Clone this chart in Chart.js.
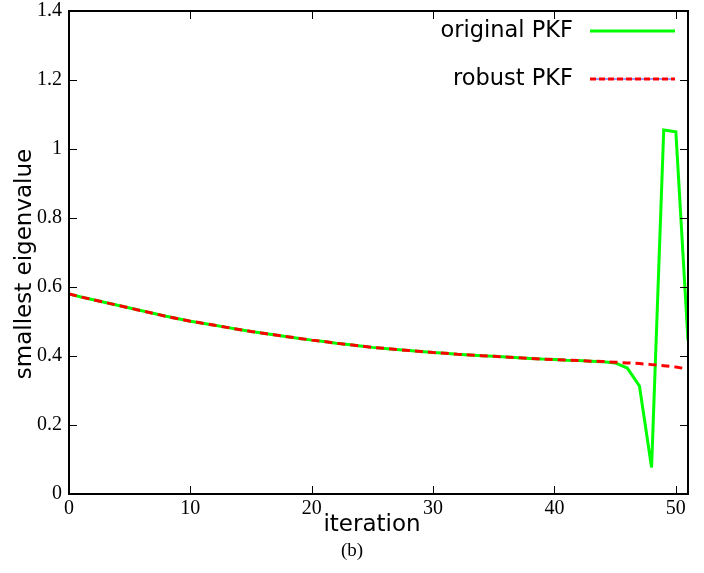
<!DOCTYPE html>
<html>
<head>
<meta charset="utf-8">
<script src="https://cdn.jsdelivr.net/npm/chart.js"></script>
<style>
  html, body { margin: 0; padding: 0; background: #fff; }
  #wrap { width: 704px; height: 573px; }
</style>
</head>
<body>
<div id="wrap"><canvas id="eigChart" width="704" height="573"></canvas></div>
<script>
// iterations 0..51
const iterations = [0,1,2,3,4,5,6,7,8,9,10,11,12,13,14,15,16,17,18,19,20,21,22,23,24,25,
    26,27,28,29,30,31,32,33,34,35,36,37,38,39,40,41,42,43,44,45,46,47,48,49,50,51];

const originalPKF = [0.580,0.571,0.563,0.555,0.547,0.539,0.531,0.523,0.515,0.508,
    0.501,0.495,0.489,0.483,0.477,0.471,0.466,0.461,0.456,0.451,
    0.446,0.442,0.437,0.433,0.429,0.425,0.422,0.419,0.416,0.413,
    0.410,0.408,0.405,0.403,0.401,0.399,0.397,0.395,0.393,0.391,
    0.390,0.388,0.387,0.385,0.383,0.380,0.365,0.313,0.077,1.055,1.050,0.445];

const robustPKF = [0.580,0.571,0.563,0.555,0.547,0.539,0.531,0.523,0.515,0.508,
    0.501,0.495,0.489,0.483,0.477,0.471,0.466,0.461,0.456,0.451,
    0.446,0.442,0.437,0.433,0.429,0.425,0.422,0.419,0.416,0.413,
    0.410,0.408,0.405,0.403,0.401,0.399,0.397,0.395,0.393,0.391,
    0.390,0.388,0.387,0.385,0.384,0.382,0.380,0.378,0.375,0.372,0.368,0.362];

const seriesNames = ['original PKF', 'robust PKF'];
const xTitle = 'iteration';
const yTitle = 'smallest eigenvalue';
const caption = '(b)';

const toPoints = (vals) => iterations.map((x, i) => ({ x: x, y: vals[i] }));

const serif = '"Liberation Serif", "Times New Roman", serif';
const sans = '"DejaVu Sans", sans-serif';

// --- frame, inward ticks, titles, legend ---
const gnuplotDecor = {
    id: 'gnuplotDecor',
    afterDraw(chart) {
        const { ctx, chartArea: { left, right, top, bottom }, scales: { x, y } } = chart;
        ctx.save();

        // inward tick marks on all four sides
        ctx.strokeStyle = '#000';
        ctx.lineWidth = 1;
        x.ticks.forEach(t => {
            const px = Math.round(x.getPixelForValue(t.value)) + 0.5;
            ctx.beginPath();
            ctx.moveTo(px, bottom); ctx.lineTo(px, bottom - 8);
            ctx.moveTo(px, top); ctx.lineTo(px, top + 8);
            ctx.stroke();
        });
        y.ticks.forEach(t => {
            const py = Math.round(y.getPixelForValue(t.value)) + 0.5;
            ctx.beginPath();
            ctx.moveTo(left, py); ctx.lineTo(left + 8, py);
            ctx.moveTo(right, py); ctx.lineTo(right - 8, py);
            ctx.stroke();
        });

        // frame
        ctx.lineWidth = 2;
        ctx.strokeRect(left, top, right - left, bottom - top);

        // axis titles
        ctx.fillStyle = '#000';
        ctx.font = '23px ' + sans;
        ctx.textAlign = 'center';
        ctx.textBaseline = 'middle';
        ctx.fillText(xTitle, 372, 525);

        ctx.save();
        ctx.translate(25, 264);
        ctx.rotate(-Math.PI / 2);
        ctx.fillText(yTitle, 0, 0);
        ctx.restore();

        // caption
        ctx.font = '19px ' + serif;
        ctx.fillText(caption, 352, 551);

        // legend
        ctx.font = '22.5px ' + sans;
        ctx.textAlign = 'right';
        const rows = [31, 79];
        ctx.fillText(seriesNames[0], 573, rows[0]);
        ctx.fillText(seriesNames[1], 573, rows[1]);

        ctx.lineWidth = 3;
        ctx.strokeStyle = '#00ff00';
        ctx.beginPath();
        ctx.moveTo(590, rows[0]); ctx.lineTo(675, rows[0]);
        ctx.stroke();

        ctx.lineWidth = 1.5;
        ctx.strokeStyle = '#7777ff';
        ctx.beginPath();
        ctx.moveTo(590, rows[1]); ctx.lineTo(675, rows[1]);
        ctx.stroke();
        ctx.lineWidth = 3;
        ctx.strokeStyle = '#ff0000';
        ctx.setLineDash([6, 3]);
        ctx.beginPath();
        ctx.moveTo(590, rows[1]); ctx.lineTo(675, rows[1]);
        ctx.stroke();

        ctx.restore();
    }
};

new Chart(document.getElementById('eigChart').getContext('2d'), {
    type: 'line',
    data: {
        datasets: [
            {
                label: seriesNames[1],
                data: toPoints(robustPKF),
                borderColor: '#ff0000',
                borderWidth: 3,
                borderDash: [8, 5],
                pointRadius: 0,
                tension: 0,
                order: 0
            },
            {
                label: seriesNames[0],
                data: toPoints(originalPKF),
                borderColor: '#00ff00',
                borderWidth: 3,
                pointRadius: 0,
                tension: 0,
                order: 1
            }
        ]
    },
    options: {
        responsive: false,
        animation: false,
        layout: { padding: { left: 0, top: 11, right: 16, bottom: 0 } },
        plugins: {
            legend: { display: false },
            tooltip: { enabled: false }
        },
        scales: {
            x: {
                type: 'linear',
                min: 0,
                max: 51,
                grid: { display: false, drawTicks: false },
                border: { display: false },
                afterFit(scale) {
                    scale.height = 79;
                    scale.paddingLeft = 0;
                    scale.paddingRight = 0;
                },
                ticks: {
                    stepSize: 10,
                    includeBounds: false,
                    padding: 3,
                    color: '#000',
                    font: { family: serif, size: 20 },
                    maxRotation: 0
                }
            },
            y: {
                min: 0,
                max: 1.4,
                grid: { display: false, drawTicks: false },
                border: { display: false },
                afterFit(scale) {
                    scale.width = 69;
                    scale.paddingTop = 0;
                    scale.paddingBottom = 0;
                },
                ticks: {
                    stepSize: 0.2,
                    padding: 7,
                    color: '#000',
                    font: { family: serif, size: 20 },
                    callback: (v) => String(+v.toFixed(1))
                }
            }
        }
    },
    plugins: [gnuplotDecor]
});
</script>
</body>
</html>
